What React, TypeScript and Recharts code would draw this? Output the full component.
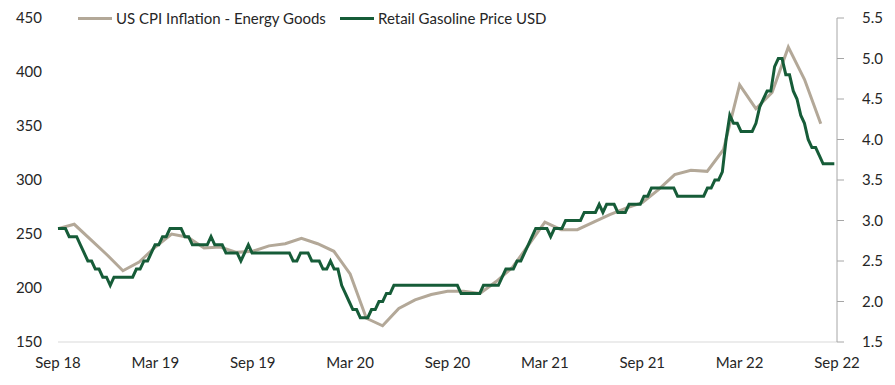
import { LineChart, Line, XAxis, YAxis } from 'recharts';

// x axis runs in months from Sep 18 (0) to Sep 22 (48)
const monthTicks = [0, 6, 12, 18, 24, 30, 36, 42, 48];
const monthLabels = ['Sep 18', 'Mar 19', 'Sep 19', 'Mar 20', 'Sep 20', 'Mar 21', 'Sep 21', 'Mar 22', 'Sep 22'];

const leftTicks = [150, 200, 250, 300, 350, 400, 450];
const rightTicks = [1.5, 2.0, 2.5, 3.0, 3.5, 4.0, 4.5, 5.0, 5.5];

// US CPI Inflation - Energy Goods, monthly from Sep 18
const cpiEnergy = [
  255, 259, 245, 231, 216, 224, 238, 250, 247, 237, 238, 233,
  234, 239, 241, 246, 241, 234, 213, 172, 165, 181, 189, 194,
  197, 197, 195, 206, 219, 240, 261, 254, 254, 261, 268, 274,
  279, 291, 305, 309, 308, 328, 388, 366, 381, 423, 393, 352,
];

// Retail Gasoline Price USD, weekly from Sep 18
const gasolinePrice = [
  2.9, 2.9, 2.9, 2.8, 2.8, 2.8, 2.7, 2.6, 2.5, 2.5, 2.4, 2.4, 2.3, 2.3, 2.2,
  2.3, 2.3, 2.3, 2.3, 2.3, 2.3, 2.4, 2.4, 2.5, 2.5, 2.6, 2.7, 2.7, 2.8, 2.8,
  2.9, 2.9, 2.9, 2.9, 2.8, 2.8, 2.7, 2.7, 2.7, 2.7, 2.7, 2.8, 2.7, 2.7, 2.7,
  2.6, 2.6, 2.6, 2.6, 2.5, 2.6, 2.7, 2.6, 2.6, 2.6, 2.6, 2.6, 2.6, 2.6, 2.6,
  2.6, 2.6, 2.6, 2.5, 2.5, 2.6, 2.6, 2.6, 2.5, 2.5, 2.5, 2.4, 2.4, 2.5, 2.4,
  2.4, 2.2, 2.1, 2.0, 1.9, 1.9, 1.8, 1.8, 1.8, 1.9, 1.9, 2.0, 2.0, 2.1, 2.1,
  2.2, 2.2, 2.2, 2.2, 2.2, 2.2, 2.2, 2.2, 2.2, 2.2, 2.2, 2.2, 2.2, 2.2, 2.2,
  2.2, 2.2, 2.2, 2.1, 2.1, 2.1, 2.1, 2.1, 2.1, 2.2, 2.2, 2.2, 2.2, 2.2, 2.3,
  2.4, 2.4, 2.4, 2.5, 2.5, 2.6, 2.7, 2.8, 2.9, 2.9, 2.9, 2.9, 2.8, 2.9, 2.9,
  2.9, 3.0, 3.0, 3.0, 3.0, 3.0, 3.1, 3.1, 3.1, 3.1, 3.2, 3.1, 3.2, 3.2, 3.2,
  3.1, 3.1, 3.1, 3.2, 3.2, 3.2, 3.2, 3.3, 3.3, 3.4, 3.4, 3.4, 3.4, 3.4, 3.4,
  3.4, 3.3, 3.3, 3.3, 3.3, 3.3, 3.3, 3.3, 3.3, 3.4, 3.4, 3.5, 3.5, 3.6, 4.0,
  4.3, 4.2, 4.2, 4.1, 4.1, 4.1, 4.1, 4.2, 4.4, 4.5, 4.6, 4.6, 4.9, 5.0, 5.0,
  4.8, 4.8, 4.6, 4.5, 4.3, 4.2, 4.0, 3.9, 3.9, 3.8, 3.7, 3.7, 3.7, 3.7,
];

const WEEKS_PER_MONTH = 52.18 / 12;

const cpiData = cpiEnergy.map((v, i) => ({ x: i, cpi: v }));
const gasData = gasolinePrice.map((v, i) => ({ x: i / WEEKS_PER_MONTH, gas: v }));

const CPI_COLOR = '#b3a898';
const GAS_COLOR = '#165c38';
const FONT = 'Lato, "Open Sans", sans-serif';
const TEXT = '#262626';

const tickStyle = { fontSize: 15, fill: TEXT, fontFamily: FONT };

function ChartLegend() {
  const items = [
    { label: 'US CPI Inflation - Energy Goods', color: CPI_COLOR, width: 262 },
    { label: 'Retail Gasoline Price USD', color: GAS_COLOR, width: 220 },
  ];
  return (
    <div
      style={{
        position: 'absolute',
        top: 8,
        left: 78,
        display: 'flex',
        fontFamily: FONT,
        fontSize: 15,
        color: TEXT,
        lineHeight: '20px',
      }}
    >
      {items.map((it) => (
        <div key={it.label} style={{ display: 'flex', alignItems: 'center', width: it.width }}>
          <span style={{ display: 'inline-block', width: 34, height: 3, background: it.color, marginRight: 4 }} />
          <span>{it.label}</span>
        </div>
      ))}
    </div>
  );
}

export default function App() {
  return (
    <div style={{ position: 'absolute', left: 0, top: 0, width: 895, height: 385, background: '#fff' }}>
      <LineChart width={895} height={385} margin={{ top: 18, right: 0, bottom: 0, left: 0 }}>
        <XAxis
          dataKey="x"
          type="number"
          domain={[0, 48]}
          ticks={monthTicks}
          tickFormatter={(v: number) => monthLabels[monthTicks.indexOf(v)] ?? ''}
          height={43}
          tickLine={false}
          tickSize={6}
          tickMargin={9}
          axisLine={{ stroke: '#d9d9d9', strokeWidth: 1 }}
          tick={tickStyle}
          interval={0}
          allowDuplicatedCategory={false}
        />
        <YAxis
          yAxisId="left"
          orientation="left"
          domain={[150, 450]}
          ticks={leftTicks}
          width={58}
          axisLine={false}
          tickLine={false}
          tickSize={6}
          tickMargin={10}
          tick={tickStyle}
          interval={0}
        />
        <YAxis
          yAxisId="right"
          orientation="right"
          domain={[1.5, 5.5]}
          ticks={rightTicks}
          width={58}
          axisLine={{ stroke: '#a6a6a6', strokeWidth: 1 }}
          tickLine={{ stroke: '#a6a6a6', strokeWidth: 1 }}
          tickSize={7}
          tickMargin={18}
          tick={tickStyle}
          tickFormatter={(v: number) => v.toFixed(1)}
          interval={0}
        />
        <Line
          yAxisId="left"
          data={cpiData}
          dataKey="cpi"
          name="US CPI Inflation - Energy Goods"
          stroke={CPI_COLOR}
          strokeWidth={3}
          dot={false}
          type="linear"
          isAnimationActive={false}
        />
        <Line
          yAxisId="right"
          data={gasData}
          dataKey="gas"
          name="Retail Gasoline Price USD"
          stroke={GAS_COLOR}
          strokeWidth={3}
          dot={false}
          type="linear"
          isAnimationActive={false}
        />
      </LineChart>
      <ChartLegend />
    </div>
  );
}
